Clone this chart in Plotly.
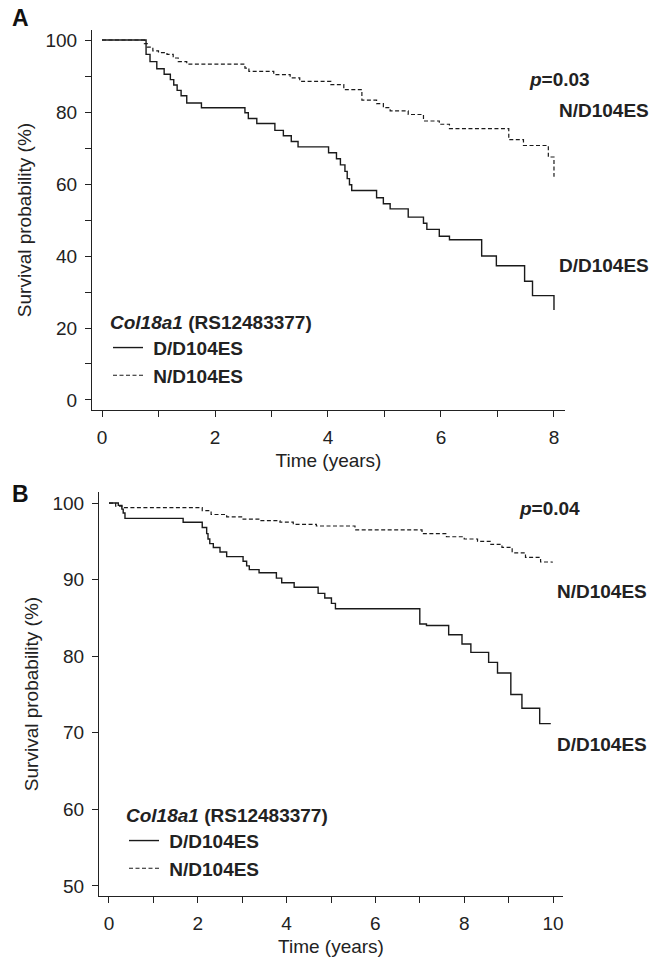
import plotly.graph_objects as go

# ---------------- Data ----------------
# Panel A (8-year follow-up): Kaplan-Meier steps (time in years, survival %)
a_dd_time = [0, 0.78, 0.85, 0.97, 1.10, 1.21, 1.27, 1.33, 1.40, 1.50, 1.76, 2.53, 2.59, 2.74,
             3.06, 3.21, 3.35, 3.47, 4.01, 4.15, 4.22, 4.30, 4.34, 4.38, 4.42, 4.86, 4.98,
             5.10, 5.42, 5.69, 5.75, 5.97, 6.15, 6.72, 6.98, 7.48, 7.62, 8.0]
a_dd_surv = [100, 96, 94, 92, 90.5, 89, 87.5, 86, 84.5, 82.5, 81.2, 79.8, 78.2, 76.8,
             74.9, 73.4, 71.8, 70.3, 68.7, 67.0, 65.3, 63.5, 61.5, 59.8, 58.2, 56.2, 54.5,
             53.1, 50.8, 49.1, 47.4, 45.5, 44.5, 40.0, 37.3, 33.0, 29.0, 25.0]

a_nd_time = [0, 0.75, 0.80, 0.90, 1.00, 1.15, 1.26, 1.35, 1.50, 2.53, 2.60, 3.04, 3.33, 3.50,
             4.05, 4.28, 4.60, 4.86, 4.98, 5.10, 5.42, 5.69, 5.97, 6.15, 7.20, 7.46, 7.90,
             8.0]
a_nd_surv = [100, 99, 98, 97, 96.5, 96, 95, 94, 93.3, 92.2, 91.3, 90.4, 89.5, 88.5,
             87.6, 86.2, 83.3, 82.3, 81.2, 80.3, 79.3, 77.5, 76.6, 75.4, 72.3, 70.7, 67.5,
             62.0]

# Panel B (10-year follow-up)
b_dd_time = [0, 0.21, 0.29, 0.32, 0.36, 1.67, 2.10, 2.20, 2.23, 2.27, 2.35, 2.50, 2.65,
             3.02, 3.10, 3.16, 3.38, 3.77, 3.89, 4.17, 4.71, 4.86, 5.01, 5.10, 7.00, 7.15,
             7.65, 7.95, 8.15, 8.55, 8.75, 9.05, 9.30, 9.70, 9.95]
b_dd_surv = [100, 99.7, 99.2, 98.7, 98.0, 97.5, 96.8, 96.0, 95.3, 94.7, 94.2, 93.6, 93.0,
             92.4, 91.8, 91.3, 90.9, 90.2, 89.6, 89.0, 88.2, 87.6, 86.9, 86.2, 84.2, 84.0,
             82.8, 81.6, 80.5, 79.2, 77.8, 75.0, 73.2, 71.2, 71.2]

b_nd_time = [0, 0.15, 0.29, 2.10, 2.30, 2.65, 3.02, 3.40, 3.85, 4.15, 4.67, 5.54, 7.05,
             7.60, 8.00, 8.30, 8.60, 8.85, 9.08, 9.38, 9.72, 9.98]
b_nd_surv = [100, 99.6, 99.4, 99.0, 98.5, 98.2, 97.9, 97.7, 97.5, 97.2, 97.0, 96.5, 96.0,
             95.6, 95.3, 95.0, 94.6, 94.2, 93.5, 92.9, 92.3, 92.2]

group_labels = ["D/D104ES", "N/D104ES"]
legend_title = "<b><i>Col18a1</i> (RS12483377)</b>"
a_x_ticks = list(range(0, 9))
a_y_ticks = list(range(0, 101, 10))
b_x_ticks = list(range(0, 11))
b_y_ticks = list(range(50, 101, 10))
p_values = ["0.03", "0.04"]

# ---------------- Geometry helpers ----------------
W, H = 666, 961
FONT = "Liberation Sans, Arial, Helvetica, sans-serif"
FS = 19


def px_x(p):
    return p / W


def px_y(p):
    return 1 - p / H


fig = go.Figure()

line_solid = dict(color="#1a1a1a", width=1.4, shape="hv")
line_dash = dict(color="#1a1a1a", width=1.2, shape="hv", dash="4px,2.5px")


def legend_name(s):
    return "<b>\u00a0" + s + "</b>"


fig.add_trace(go.Scatter(x=a_dd_time, y=a_dd_surv, mode="lines", line=line_solid,
                         name=legend_name(group_labels[0]), xaxis="x", yaxis="y",
                         legend="legend"))
fig.add_trace(go.Scatter(x=a_nd_time, y=a_nd_surv, mode="lines", line=line_dash,
                         name=legend_name(group_labels[1]), xaxis="x", yaxis="y",
                         legend="legend"))
fig.add_trace(go.Scatter(x=b_dd_time, y=b_dd_surv, mode="lines", line=line_solid,
                         name=legend_name(group_labels[0]), xaxis="x2", yaxis="y2",
                         legend="legend2"))
fig.add_trace(go.Scatter(x=b_nd_time, y=b_nd_surv, mode="lines", line=line_dash,
                         name=legend_name(group_labels[1]), xaxis="x2", yaxis="y2",
                         legend="legend2"))

axis_common = dict(showline=True, linecolor="#222", linewidth=1.2, ticks="outside",
                   tickcolor="#222", tickwidth=1.2, ticklen=6, showgrid=False,
                   zeroline=False, tickfont=dict(family=FONT, size=FS, color="#222"),
                   mirror=False)


def even_labels(vals, step):
    return [str(v) if v % step == 0 else "" for v in vals]


fig.update_layout(
    width=W, height=H,
    margin=dict(l=0, r=0, t=0, b=0),
    paper_bgcolor="white", plot_bgcolor="white",
    font=dict(family=FONT, size=FS, color="#222"),
    xaxis=dict(axis_common, domain=[px_x(92), px_x(565)], range=[-0.177, 8.195],
               anchor="y", tickvals=a_x_ticks, ticktext=even_labels(a_x_ticks, 2),
               ticklabelstandoff=4,
               title=dict(text="Time (years)", font=dict(family=FONT, size=FS), standoff=6)),
    yaxis=dict(axis_common, domain=[px_y(410), px_y(30)], range=[-2.78, 102.78],
               anchor="x", tickvals=a_y_ticks, ticktext=even_labels(a_y_ticks, 20),
               ticklabelstandoff=4,
               title=dict(text="Survival probability (%)", font=dict(family=FONT, size=FS),
                          standoff=8)),
    xaxis2=dict(axis_common, domain=[px_x(99), px_x(563)], range=[-0.225, 10.225],
                anchor="y2", tickvals=b_x_ticks, ticktext=even_labels(b_x_ticks, 2),
                ticklabelstandoff=4,
                title=dict(text="Time (years)", font=dict(family=FONT, size=FS), standoff=6)),
    yaxis2=dict(axis_common, domain=[px_y(896), px_y(492)], range=[48.69, 101.44],
                anchor="x2", tickvals=b_y_ticks, ticktext=[str(v) for v in b_y_ticks],
                ticklabelstandoff=4,
                title=dict(text="Survival probability (%)", font=dict(family=FONT, size=FS),
                           standoff=8)),
    legend=dict(x=px_x(108), y=px_y(304), xanchor="left", yanchor="top",
                bgcolor="rgba(0,0,0,0)", borderwidth=0,
                title=dict(text=legend_title, font=dict(family=FONT, size=FS)),
                font=dict(family=FONT, size=FS), tracegroupgap=0, itemwidth=30,
                itemclick=False),
    legend2=dict(x=px_x(124), y=px_y(797), xanchor="left", yanchor="top",
                 bgcolor="rgba(0,0,0,0)", borderwidth=0,
                 title=dict(text=legend_title, font=dict(family=FONT, size=FS)),
                 font=dict(family=FONT, size=FS), tracegroupgap=0, itemwidth=30,
                 itemclick=False),
    showlegend=True,
)

bold = dict(family=FONT, size=FS, color="#222")
annots = [
    # panel letters
    dict(text="<b>A</b>", xref="paper", yref="paper", x=px_x(10), y=px_y(18),
         xanchor="left", yanchor="middle", font=dict(family=FONT, size=23, color="#111")),
    dict(text="<b>B</b>", xref="paper", yref="paper", x=px_x(10), y=px_y(494),
         xanchor="left", yanchor="middle", font=dict(family=FONT, size=23, color="#111")),
    # panel A labels
    dict(text="<b><i>p</i>=" + p_values[0] + "</b>", xref="x", yref="y", x=7.52, y=89,
         xanchor="left", yanchor="middle", font=bold),
    dict(text="<b>" + group_labels[1] + "</b>", xref="x", yref="y", x=8.05, y=80.5,
         xanchor="left", yanchor="middle", font=bold),
    dict(text="<b>" + group_labels[0] + "</b>", xref="x", yref="y", x=8.05, y=37.5,
         xanchor="left", yanchor="middle", font=bold),
    # panel B labels
    dict(text="<b><i>p</i>=" + p_values[1] + "</b>", xref="x2", yref="y2", x=9.2, y=99.3,
         xanchor="left", yanchor="middle", font=bold),
    dict(text="<b>" + group_labels[1] + "</b>", xref="x2", yref="y2", x=10.05, y=88.5,
         xanchor="left", yanchor="middle", font=bold),
    dict(text="<b>" + group_labels[0] + "</b>", xref="x2", yref="y2", x=10.05, y=68.5,
         xanchor="left", yanchor="middle", font=bold),
]
for a in annots:
    a["showarrow"] = False
fig.update_layout(annotations=annots)

fig.write_html("out.html")
